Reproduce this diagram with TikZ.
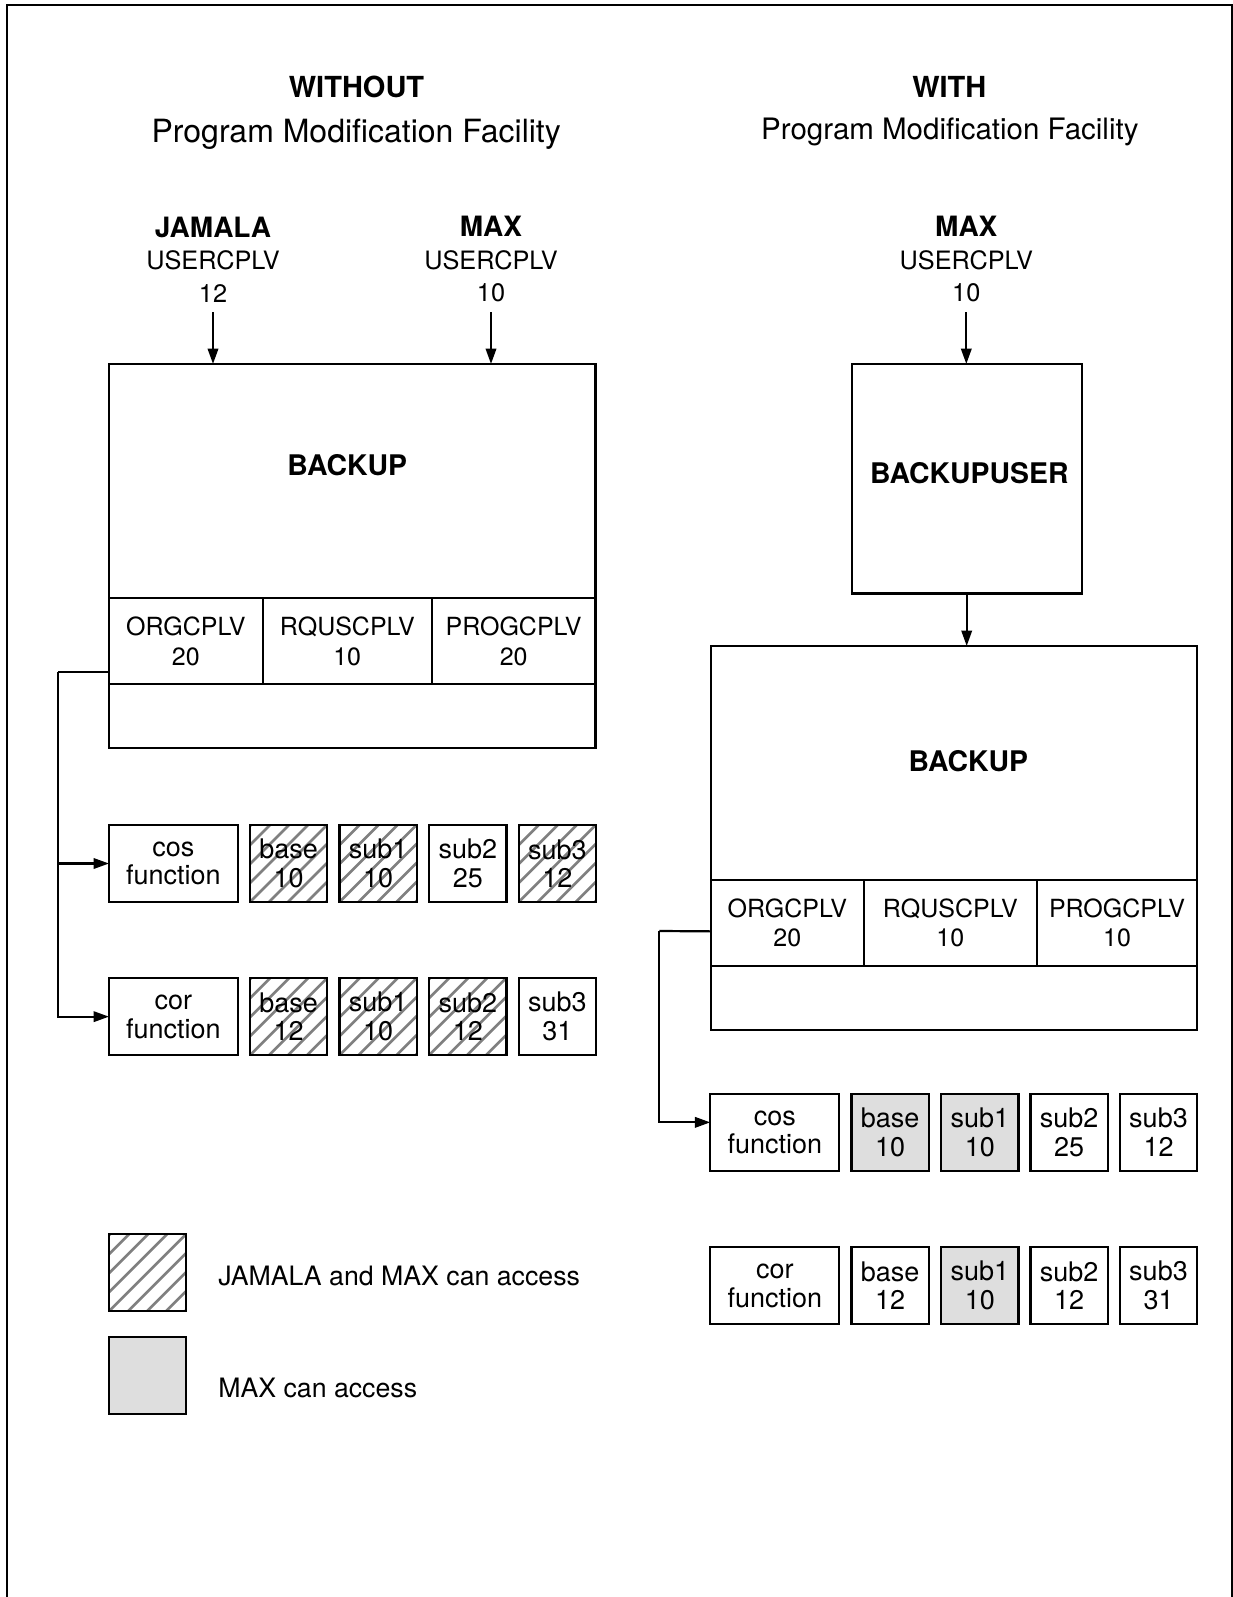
\documentclass[tikz,border=0pt]{standalone}
\usepackage{fontspec}
\setmainfont{TeX Gyre Heros}
\usetikzlibrary{arrows.meta}

\begin{document}
\begin{tikzpicture}[x=1pt,y=-1pt,
  texto/.style={inner sep=0pt, outer sep=0pt},
  titulo/.style={texto, font=\bfseries\fontsize{29}{34}\selectfont},
  nombre/.style={texto, font=\bfseries\fontsize{28.4}{33}\selectfont},
  usuario/.style={texto, anchor=south, align=center, font=\fontsize{25.3}{32.5}\selectfont},
  caja/.style={draw, line width=2.3pt, inner sep=0pt, outer sep=0pt},
  campo/.style={caja, minimum height=86pt, align=center, font=\fontsize{25}{29.4}\selectfont},
  celda/.style={caja, minimum width=77.3pt, minimum height=77pt, align=center, font=\fontsize{27}{28.7}\selectfont},
  rayado/.style={path picture={
    \foreach \k in {-5,...,5}
      \draw[black!50, line width=2.6pt] ([xshift=\k*19pt]path picture bounding box.south west) -- ++(110pt,110pt);
  }},
  gris/.style={fill=black!13},
  linea/.style={line width=2.2pt},
  flecha/.style={linea, -{Triangle[length=15.5pt,width=10.5pt]}}
]

% Marco
\useasboundingbox (0,0) rectangle (1233,1597);
\draw[line width=2pt] (7,1600) -- (7,5) -- (1232.3,5) -- (1232.3,1600);

% Títulos
\node[titulo, anchor=base] (sinT) at (356.5,97.7) {WITHOUT};
\node[texto, anchor=base, font=\fontsize{32}{38}\selectfont] (sinP) at (356.2,142.7) {Program Modification Facility};
\node[titulo, anchor=base] (conT) at (949.3,97.7) {WITH};
\node[texto, anchor=base, font=\fontsize{29.5}{35}\selectfont] (conP) at (949.8,140) {Program Modification Facility};

% Usuarios
\node[usuario] (jamala) at (213,302.3) {{\bfseries\fontsize{28}{32.5}\selectfont JAMALA}\\USERCPLV\\12};
\node[usuario] (maxL) at (491,302.3) {{\bfseries\fontsize{28}{32.5}\selectfont MAX}\\USERCPLV\\10};
\node[usuario] (maxR) at (966.3,302.3) {{\bfseries\fontsize{28}{32.5}\selectfont MAX}\\USERCPLV\\10};

% BACKUP sin PMF
\node[caja, minimum width=486.6pt, minimum height=383.7pt] (bkL) at (352.3,555.85) {};
\node[nombre, anchor=base] (bkLt) at (347.2,475.8) {BACKUP};
\node[campo, minimum width=153.7pt] (orgL) at (185.85,641.3) {ORGCPLV\\20};
\node[campo, minimum width=169pt] (rqL) at (347.2,641.3) {RQUSCPLV\\10};
\node[campo, minimum width=163.9pt] (progL) at (513.65,641.3) {PROGCPLV\\20};

\draw[flecha] ([yshift=-10pt]jamala.south) -- (jamala.south |- bkL.north);
\draw[flecha] ([yshift=-10pt]maxL.south) -- (maxL.south |- bkL.north);

% Funciones sin PMF
\node[celda, minimum width=128.7pt] (cosL) at (173.35,863.5) {cos\\function};
\node[celda, rayado] (cosLb) at (288.65,863.5) {base\\10};
\node[celda, rayado] (cosL1) at (378.2,863.5) {sub1\\10};
\node[celda] (cosL2) at (467.8,863.5) {sub2\\25};
\node[celda, rayado] (cosL3) at (557.35,863.5) {sub3\\12};

\node[celda, minimum width=128.7pt] (corL) at (173.35,1016.65) {cor\\function};
\node[celda, rayado] (corLb) at (288.65,1016.65) {base\\12};
\node[celda, rayado] (corL1) at (378.2,1016.65) {sub1\\10};
\node[celda, rayado] (corL2) at (467.8,1016.65) {sub2\\12};
\node[celda] (corL3) at (557.35,1016.65) {sub3\\31};

\coordinate (busL) at (58.3,671.7);
\draw[linea] ([yshift=12.6pt]orgL.south west) -- (busL);
\draw[flecha] (busL) |- (cosL.west);
\draw[flecha] (busL) |- (corL.west);

% BACKUPUSER con PMF
\node[caja, minimum width=230pt, minimum height=229.6pt] (bu) at (966.7,478.8) {};
\node[nombre, anchor=base] (buT) at (969.3,483.8) {BACKUPUSER};

% BACKUP con PMF
\node[caja, minimum width=486.6pt, minimum height=384pt] (bkR) at (954,838) {};
\node[nombre, anchor=base] (bkRt) at (968.3,771.7) {BACKUP};
\node[campo, minimum width=153.3pt] (orgR) at (787.35,922.65) {ORGCPLV\\20};
\node[campo, minimum width=172.7pt] (rqR) at (950.35,922.65) {RQUSCPLV\\10};
\node[campo, minimum width=160.6pt] (progR) at (1117,922.65) {PROGCPLV\\10};

\draw[flecha] ([yshift=-10pt]maxR.south) -- (maxR.south |- bu.north);
\draw[flecha] (bu.south) -- (bu.south |- bkR.north);

% Funciones con PMF
\node[celda, minimum width=129pt] (cosR) at (774.8,1132.35) {cos\\function};
\node[celda, gris] (cosRb) at (890.15,1132.35) {base\\10};
\node[celda, gris] (cosR1) at (979.85,1132.35) {sub1\\10};
\node[celda] (cosR2) at (1069.2,1132.35) {sub2\\25};
\node[celda] (cosR3) at (1158.5,1132.35) {sub3\\12};

\node[celda, minimum width=129pt] (corR) at (774.8,1285.65) {cor\\function};
\node[celda] (corRb) at (890.15,1285.65) {base\\12};
\node[celda, gris] (corR1) at (979.85,1285.65) {sub1\\10};
\node[celda] (corR2) at (1069.2,1285.65) {sub2\\12};
\node[celda] (corR3) at (1158.5,1285.65) {sub3\\31};

\coordinate (busR) at (659.3,931);
\draw[linea] ([yshift=34.3pt]orgR.south west) -- (busR);
\draw[flecha] (busR) |- ([yshift=10pt]cosR.west);

% Leyenda
\node[celda, rayado] (leyR) at (147.65,1272.65) {};
\node[texto, anchor=base west, font=\fontsize{26.7}{32}\selectfont] (leyRt) at (218.3,1285) {JAMALA and MAX can access};
\node[celda, gris] (leyG) at (147.65,1375.35) {};
\node[texto, anchor=base west, font=\fontsize{26.7}{32}\selectfont] (leyGt) at (218.3,1397.3) {MAX can access};

\end{tikzpicture}
\end{document}
